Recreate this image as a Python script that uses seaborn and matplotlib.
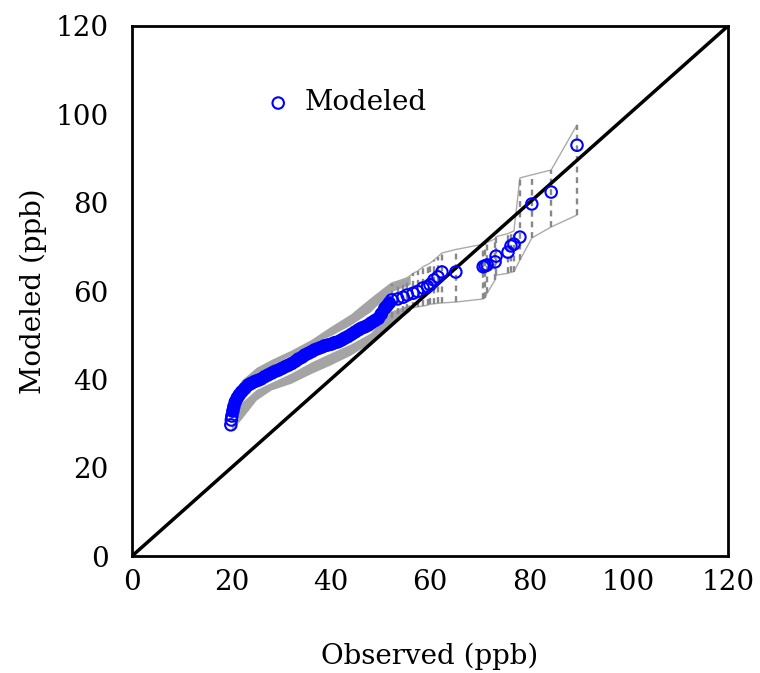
import matplotlib
matplotlib.use("Agg")
import matplotlib.pyplot as plt
import seaborn as sns
import pandas as pd
import numpy as np

# ---- data ----
# dense part of the Q-Q curve (observed quantile, modeled quantile)
obs_dense = [19.9, 20.0, 20.1, 20.3, 20.5, 20.8, 21.2, 21.6, 22.1, 22.7, 23.4, 24.0,
             24.7, 25.4, 26.0, 26.7, 27.4, 28.1, 28.8, 29.5, 30.2, 30.9, 31.5, 32.2,
             32.9, 33.5, 34.2, 34.8, 35.5, 36.2, 36.8, 37.5, 38.2, 38.8, 39.5, 40.2,
             40.8, 41.5, 42.2, 42.8, 43.5, 44.2, 44.9, 45.6, 46.2, 46.9, 47.6, 48.2,
             48.9, 49.6, 50.2, 50.9, 51.3, 51.8]
mod_dense = [29.7, 30.8, 31.7, 32.8, 33.8, 34.9, 35.8, 36.5, 37.2, 37.9, 38.7, 39.1,
             39.5, 39.8, 40.1, 40.6, 41.0, 41.4, 41.8, 42.1, 42.5, 42.9, 43.2, 43.6,
             44.1, 44.6, 45.0, 45.5, 45.9, 46.3, 46.7, 47.0, 47.3, 47.6, 47.8, 48.0,
             48.3, 48.5, 48.9, 49.3, 49.7, 50.2, 50.7, 51.2, 51.6, 51.9, 52.3, 52.8,
             53.3, 53.8, 54.8, 56.1, 56.6, 57.3]

# sparse upper tail with ensemble range (lower / upper)
obs_tail = [52.3, 53.5, 54.6, 55.4, 56.6, 57.5, 58.6, 59.5, 60.0, 60.8, 61.6, 62.4,
            65.2, 70.7, 71.1, 71.5, 73.1, 73.3, 75.7, 76.3, 76.9, 78.1, 80.5, 84.4, 89.6]
mod_tail = [58.0, 58.2, 58.6, 59.1, 59.5, 59.9, 60.7, 61.0, 61.4, 62.5, 63.2, 64.3,
            64.3, 65.5, 65.7, 65.9, 66.6, 67.9, 68.8, 70.2, 70.6, 72.2, 79.7, 82.4, 93.0]
hi_tail = [61.5, 62.0, 62.5, 63.0, 64.0, 64.5, 65.5, 66.0, 66.3, 67.0, 67.8, 68.6,
           69.4, 70.6, 70.8, 71.0, 71.8, 72.3, 73.0, 73.3, 73.6, 85.6, 86.3, 87.4, 97.6]
lo_tail = [54.0, 54.8, 55.3, 55.8, 56.2, 56.4, 56.6, 56.8, 57.0, 57.1, 57.2, 57.3,
           57.5, 58.2, 58.5, 59.5, 62.5, 63.6, 64.0, 64.2, 64.4, 67.0, 72.0, 74.5, 77.2]

# ensemble band around the dense part
band_x = [20, 22, 25, 28, 32, 36, 40, 44, 48, 52, 56]
band_hi_out = [35.5, 39.8, 42.7, 44.5, 46.6, 49.0, 52.0, 54.8, 58.5, 62.0, 63.5]
band_hi_in = [33.8, 39.0, 41.5, 43.1, 45.5, 48.1, 49.9, 52.3, 55.3, 59.8, 61.5]
band_lo_in = [29.3, 34.7, 37.7, 39.3, 41.4, 43.9, 46.0, 48.0, 50.5, 55.4, 57.0]
band_lo_out = [28.5, 31.0, 35.3, 37.6, 39.1, 41.3, 43.3, 45.5, 48.3, 52.5, 55.5]

ticks = [0, 20, 40, 60, 80, 100, 120]
ref_line = [0, 120]

# ---- plotting ----
sns.set_theme(style="white")
plt.rcParams['font.family'] = ['DejaVu Serif']
plt.rcParams['text.color'] = 'black'
plt.rcParams['axes.labelcolor'] = 'black'

fig = plt.figure(figsize=(7.6, 6.73), dpi=100)
ax = fig.add_axes([0.1737, 0.1738, 0.7842, 0.7876])

gray = '#a4a4a4'
# band in the dense part
ax.fill_between(band_x, band_hi_in, band_hi_out, color=gray, lw=0, zorder=1)
ax.fill_between(band_x, band_lo_out, band_lo_in, color=gray, lw=0, zorder=1)

# tail envelope lines
tail = pd.DataFrame({'obs': obs_tail, 'hi': hi_tail, 'lo': lo_tail})
sns.lineplot(data=tail, x='obs', y='hi', ax=ax, color='#aaaaaa', lw=1.0,
             sort=False, estimator=None, zorder=2)
sns.lineplot(data=tail, x='obs', y='lo', ax=ax, color='#aaaaaa', lw=1.0,
             sort=False, estimator=None, zorder=2)
ax.vlines(obs_tail, lo_tail, hi_tail, colors='#888888', linestyles=(0, (2.5, 2)),
          lw=1.7, zorder=2)

# 1:1 line
sns.lineplot(x=ref_line, y=ref_line, ax=ax, color='black', lw=2.5, zorder=3)

# overlapping markers of the dense part merge into a solid band
sns.lineplot(x=obs_dense[3:], y=mod_dense[3:], ax=ax, color='#0000ff', lw=8.5,
             sort=False, estimator=None, zorder=4, solid_capstyle='round')

# Q-Q points
pts = pd.DataFrame({'obs': obs_dense + obs_tail, 'mod': mod_dense + mod_tail})
sns.scatterplot(data=pts, x='obs', y='mod', ax=ax, marker='o', s=68,
                facecolors='none', edgecolor='#0000ff', linewidth=1.5,
                label='Modeled', zorder=5)

ax.set_xlim(0, 120)
ax.set_ylim(0, 120)
ax.set_xticks(ticks)
ax.set_yticks(ticks)
ax.tick_params(axis='both', length=0, labelsize=20, colors='black')
ax.tick_params(axis='x', pad=9)
ax.tick_params(axis='y', pad=17)
for sp in ax.spines.values():
    sp.set_color('black')
    sp.set_linewidth(2)
ax.set_xlabel('Observed (ppb)', fontsize=20, labelpad=34, color='black')
ax.set_ylabel('Modeled (ppb)', fontsize=20, labelpad=6, color='black')

leg = ax.legend(loc='center left', bbox_to_anchor=(0.222, 0.855), frameon=False,
                fontsize=20, handlelength=1.0, handletextpad=0.45, borderpad=0,
                borderaxespad=0)
for t in leg.get_texts():
    t.set_color('black')

fig.savefig('out.png', dpi=100)
